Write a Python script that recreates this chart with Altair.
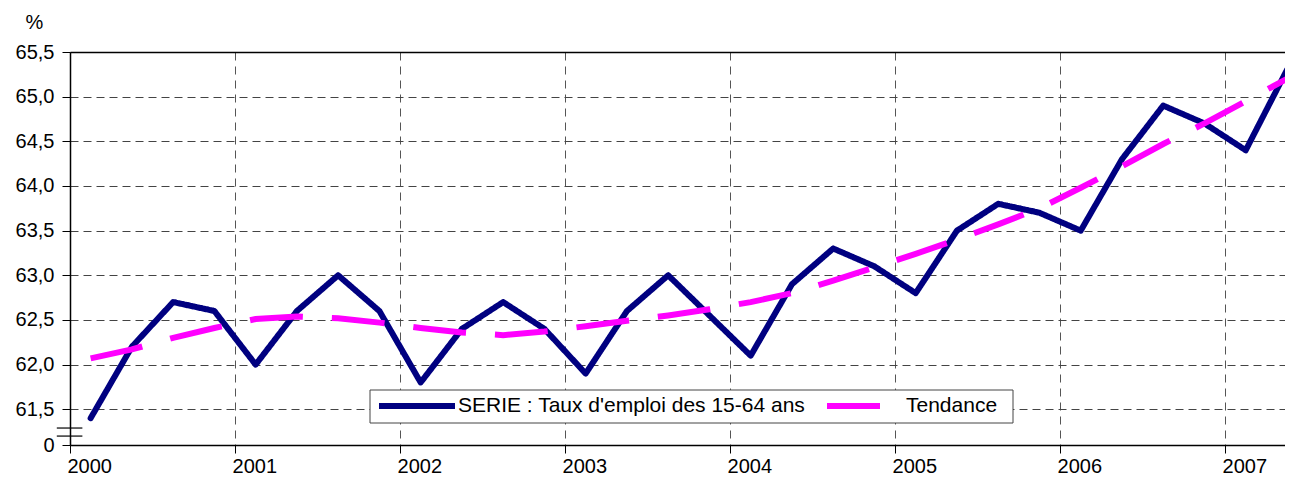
import altair as alt
import pandas as pd

# --- data -------------------------------------------------------------
annees = [2000, 2001, 2002, 2003, 2004, 2005, 2006, 2007]
trimestres = [(a, q) for a in annees for q in (1, 2, 3, 4)][:30]  # 2000T1 .. 2007T2

serie = [61.4, 62.2, 62.7, 62.6, 62.0, 62.6, 63.0, 62.6, 61.8, 62.4,
         62.7, 62.4, 61.9, 62.6, 63.0, 62.55, 62.1, 62.9, 63.3, 63.1,
         62.8, 63.5, 63.8, 63.7, 63.5, 64.3, 64.9, 64.7, 64.4, 65.3]

tendance = [62.07, 62.17, 62.30, 62.41, 62.51, 62.54, 62.52, 62.47, 62.41, 62.36,
            62.33, 62.37, 62.43, 62.49, 62.55, 62.62, 62.70, 62.80, 62.94, 63.09,
            63.24, 63.40, 63.57, 63.75, 63.98, 64.22, 64.47, 64.70, 64.95, 65.20]

nom_serie = "SERIE : Taux d'emploi des 15-64 ans"
nom_tend = "Tendance"

y_ticks = [61.1, 61.5, 62.0, 62.5, 63.0, 63.5, 64.0, 64.5, 65.0, 65.5]
coupure_y = [61.29, 61.20]          # axis-break marks
coupure_x = [1999.92, 2000.075]

# --- frames -----------------------------------------------------------
t = [a + (q - 0.5) / 4 for a, q in trimestres]
df = pd.DataFrame({
    "t": t * 2,
    "valeur": serie + tendance,
    "nom": [nom_serie] * len(serie) + [nom_tend] * len(tendance),
})
df_s = df[df.nom == nom_serie]
df_t = df[df.nom == nom_tend]
df_c = pd.DataFrame({"y": coupure_y, "x": [coupure_x[0]] * 2, "x2": [coupure_x[1]] * 2})

FONT = "Liberation Sans"

x_scale = alt.Scale(domain=[2000, 2007.363], nice=False, zero=False)
y_scale = alt.Scale(domain=[61.1, 65.5], nice=False, zero=False)

leg = dict(title=None, orient="none", legendX=306, legendY=313,
           direction="horizontal", symbolType="stroke",
           symbolSize=5776, symbolStrokeWidth=6,
           labelFontSize=21, labelFont=FONT, labelColor="black",
           padding=0, columnPadding=9, labelOffset=0, labelLimit=600)

color = alt.Color("nom:N",
                  scale=alt.Scale(domain=[nom_serie, nom_tend], range=["#000080", "#FF00FF"]),
                  legend=alt.Legend(**leg))
dash = alt.StrokeDash("nom:N",
                      scale=alt.Scale(domain=[nom_serie, nom_tend], range=[[1, 0], [53, 29]]),
                      legend=alt.Legend(**leg))

x_enc = alt.X("t:Q", scale=x_scale,
              axis=alt.Axis(values=annees, format="d", title=None, labelFontSize=20,
                            labelFont=FONT, labelColor="black", domainColor="black",
                            domainWidth=1.5, tickColor="black", tickSize=8, labelPadding=3,
                            labelAlign="left", labelOffset=-3,
                            gridColor="#555", gridDash=[8, 6], gridWidth=1, labelFlush=False))
y_enc = alt.Y("valeur:Q", scale=y_scale,
              axis=alt.Axis(values=y_ticks, title="%", titleAngle=0, titleX=-36, titleY=-30,
                            titleAlign="center", titleBaseline="middle", titleFontSize=20,
                            titleFontWeight="normal", titleFont=FONT, titleColor="black",
                            labelExpr="datum.value < 61.2 ? '0' : replace(format(datum.value, '.1f'), '.', ',')",
                            labelFontSize=20, labelFont=FONT, labelColor="black",
                            domainColor="black", domainWidth=1.5, tickColor="black",
                            tickSize=8, labelPadding=8,
                            gridColor={"condition": {"test": "datum.value >= 65.5", "value": "black"}, "value": "#444"},
                            gridDash={"condition": {"test": "datum.value >= 65.5", "value": [1, 0]}, "value": [8, 5]},
                            gridWidth={"condition": {"test": "datum.value >= 65.5", "value": 1.5}, "value": 1}))

ligne_s = alt.Chart(df_s).mark_line(strokeWidth=6, strokeCap="round", strokeJoin="round").encode(
    x=x_enc, y=y_enc, color=color, strokeDash=dash)
ligne_t = alt.Chart(df_t).mark_line(strokeWidth=6, strokeCap="butt").encode(
    x=alt.X("t:Q", scale=x_scale), y=alt.Y("valeur:Q", scale=y_scale), color=color, strokeDash=dash)

coupure = alt.Chart(df_c).mark_rule(color="black", strokeWidth=1.2).encode(
    x=alt.X("x:Q", scale=x_scale), x2="x2:Q", y=alt.Y("y:Q", scale=y_scale))

# legend frame (white box behind the legend entries)
cadre = alt.Chart(pd.DataFrame({"k": [0]})).mark_rect(
    fill="white", stroke="#444", strokeWidth=1).encode(
    x=alt.value(300), x2=alt.value(943), y=alt.value(338), y2=alt.value(371))

chart = alt.layer(ligne_s, ligne_t, coupure, cadre).properties(
    width=1215, height=393,
    autosize=alt.AutoSizeParams(type="none"),
    padding={"left": 62, "top": 44, "right": 0, "bottom": 35},
).configure_view(stroke=None).configure(background="white")

chart.save("out.html", embed_options={"renderer": "svg", "actions": False})
